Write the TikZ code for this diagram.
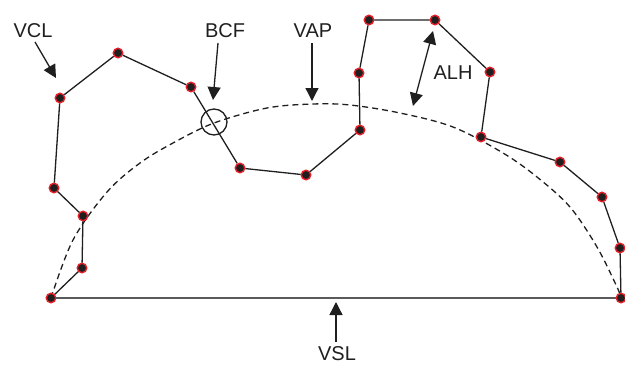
\documentclass[tikz,border=0pt]{standalone}
\usepackage{fontspec}
\setmainfont{Liberation Sans}
\usetikzlibrary{arrows.meta}
\definecolor{ringred}{RGB}{232,32,42}
\definecolor{basegray}{RGB}{90,90,90}
\begin{document}
\begin{tikzpicture}[x=1pt,y=-1pt,
  dot/.style={circle,fill=black!88,draw=ringred,line width=1.4pt,inner sep=0pt,minimum size=9.5pt},
  lbl/.style={font=\fontsize{20}{24}\selectfont,inner sep=0pt,text=black!88},
  poly/.style={line width=1.3pt,black!88},
  arr/.style={line width=1.3pt,black!88,-{Triangle[length=13pt,width=13pt]}},
  darr/.style={line width=1.3pt,black!88,{Triangle[length=13pt,width=13pt]}-{Triangle[length=13pt,width=13pt]}},
  dashline/.style={line width=1.3pt,black!88,dash pattern=on 6pt off 4pt}]
\useasboundingbox (0,0) rectangle (625,365);

% dashed arc
\draw[dashline] plot[smooth,tension=0.55] coordinates {(51,298) (73,240) (107,192) (140,163) (173,143) (214,123) (267,108) (313,104) (350,105) (400,113) (453,127) (503,153) (537,177) (570,207) (597,247) (617,287) (621,298)};

% dots
\node[dot] (p1) at (51,298) {};
\node[dot] (p2) at (82,268) {};
\node[dot] (p3) at (83,216) {};
\node[dot] (p4) at (54,188) {};
\node[dot] (p5) at (60,98) {};
\node[dot] (p6) at (118,53) {};
\node[dot] (p7) at (191,87) {};
\node[dot] (p8) at (240,168) {};
\node[dot] (p9) at (306,175) {};
\node[dot] (p10) at (360,130) {};
\node[dot] (p11) at (359,73) {};
\node[dot] (p12) at (369,20) {};
\node[dot] (p13) at (435,20) {};
\node[dot] (p14) at (490,72) {};
\node[dot] (p15) at (481,137) {};
\node[dot] (p16) at (560,162) {};
\node[dot] (p17) at (602,197) {};
\node[dot] (p18) at (620,248) {};
\node[dot] (p19) at (621,298) {};

% baseline
\draw[line width=1.9pt,basegray] (p1) -- (p19);

% polyline
\draw[poly] (p1) -- (p2) -- (p3) -- (p4) -- (p5) -- (p6) -- (p7) -- (p8) -- (p9) -- (p10) -- (p11) -- (p12) -- (p13) -- (p14) -- (p15) -- (p16) -- (p17) -- (p18) -- (p19);

% BCF circle
\node[circle,draw=black!88,line width=1.3pt,minimum size=26pt,inner sep=0pt] (bcfc) at (214,122) {};

% labels
\node[lbl] (vcl) at (33,31) {VCL};
\node[lbl] (bcf) at (225,31) {BCF};
\node[lbl] (vap) at (313,31) {VAP};
\node[lbl] (alh) at (453,73) {ALH};
\node[lbl] (vsl) at (337,354) {VSL};

% arrow endpoints
\coordinate (vclstart) at (35,42);
\coordinate (vcltip) at (56,78);
\coordinate (bcfstart) at (218,43);
\coordinate (bcftip) at (213,100);
\coordinate (vapstart) at (312,43);
\coordinate (vaptip) at (312,101);
\coordinate (alhtop) at (433,31);
\coordinate (alhbot) at (413,106);
\coordinate (vsltip) at (336,302);
\coordinate (vslstart) at (336,342);

\draw[arr] (vclstart) -- (vcltip);
\draw[arr] (bcfstart) -- (bcftip);
\draw[arr] (vapstart) -- (vaptip);
\draw[darr] (alhtop) -- (alhbot);
\draw[arr] (vslstart) -- (vsltip);
\end{tikzpicture}
\end{document}
